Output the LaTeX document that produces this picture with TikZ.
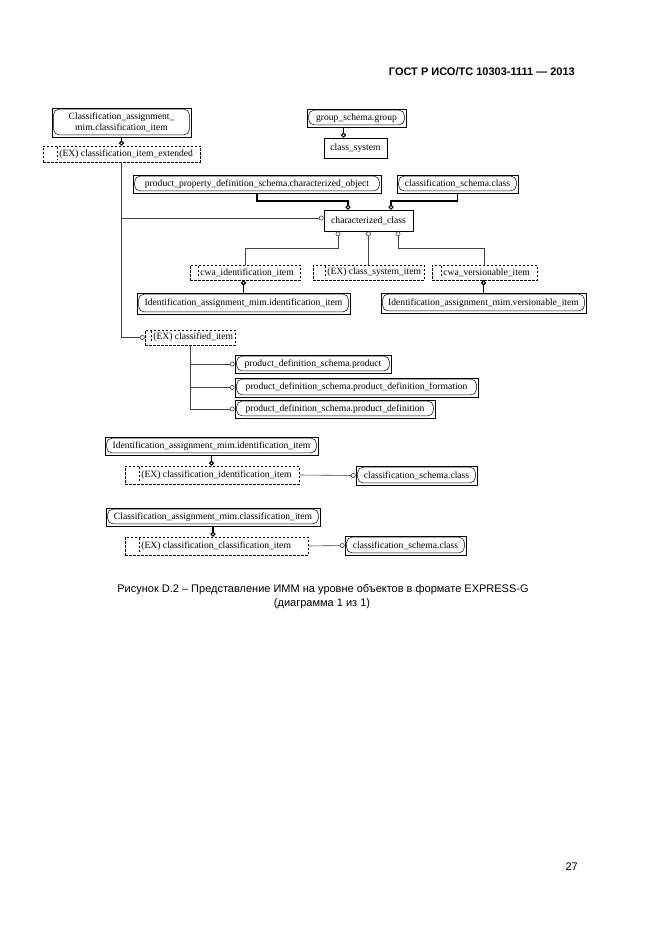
\documentclass[tikz,border=0pt]{standalone}
\usepackage{fontspec}
\setmainfont{Liberation Serif}
\newfontfamily\hdrfont{Liberation Sans}
\usetikzlibrary{arrows.meta}
\tikzset{
 ob/.style={draw, line width=0.8pt, inner sep=0pt, align=center, font=\fontsize{9.6}{10.6}\selectfont},
 db/.style={draw, dash pattern=on 2.5pt off 1.5pt, line width=0.6pt, inner sep=0pt},
 tx/.style={inner sep=0pt, font=\fontsize{9.6}{10.6}\selectfont, anchor=west},
 thk/.style={line width=1.8pt, -{Circle[open, length=5pt, width=5pt, line width=1.1pt]}},
 thn/.style={line width=0.6pt, draw=black!75, -{Circle[open, length=4.8pt, width=4.8pt, line width=0.6pt]}},
 inr/.style={line width=0.5pt, rounded corners=5.5pt},
 sanstxt/.style={inner sep=0pt, font=\hdrfont\fontsize{11}{13}\selectfont}
}
\newcommand\rbox[6]{%
 \node[ob, minimum width={(#4)-(#2)}, minimum height={(#5)-(#3)}] (#1) at ({((#2)+(#4))/2},{((#3)+(#5))/2}) {#6};
 \draw[inr] ([xshift=2pt,yshift=-1.5pt]#1.north west) rectangle ([xshift=-2pt,yshift=2.5pt]#1.south east);
}
\newcommand\pbox[6]{%
 \node[ob, minimum width={(#4)-(#2)}, minimum height={(#5)-(#3)}] (#1) at ({((#2)+(#4))/2},{((#3)+(#5))/2}) {#6};
}
\newcommand\dbox[7]{%
 \node[db, minimum width={(#4)-(#2)}, minimum height={(#5)-(#3)}] (#1) at ({((#2)+(#4))/2},{((#3)+(#5))/2}) {};
 \draw[db] ([xshift=#6pt,yshift=-1pt]#1.north west) -- ([xshift=#6pt,yshift=3pt]#1.south west);
 \node[tx] (#1-t) at ([xshift=#6pt+1.5pt]#1.west) {#7};
}
\begin{document}
\begin{tikzpicture}[x=1pt,y=-1pt]
\useasboundingbox[fill=white] (0,0) rectangle (661,936);

\node[sanstxt, font=\hdrfont\bfseries\fontsize{11}{13}\selectfont, anchor=base east] (hdr) at (575,76) {ГОСТ Р ИСО/ТС 10303-1111 — 2013};

\rbox{cam1}{52}{108}{191}{137}{Classification\_assignment\_\\mim.classification\_item}
\dbox{ex1}{43}{146}{200}{162}{15}{(EX) classification\_item\_extended}
\rbox{gsg}{307}{109}{406}{127}{group\_schema.group}
\pbox{csys}{324}{138}{387}{158}{class\_system}
\rbox{ppd}{133}{175}{381}{193}{product\_property\_definition\_schema.characterized\_object}
\rbox{csc1}{397}{175}{518}{193}{classification\_schema.class}
\pbox{cc}{324}{210}{413}{231}{characterized\_class}
\dbox{cwaid}{190}{265}{300}{280}{9}{cwa\_identification\_item}
\dbox{csi}{313}{265}{424}{280}{13}{(EX) class\_system\_item}
\dbox{cwav}{432}{265}{537}{280}{10}{cwa\_versionable\_item}
\rbox{ida1}{137}{293}{350}{314}{Identification\_assignment\_mim.identification\_item}
\rbox{idv}{381}{293}{586}{313}{Identification\_assignment\_mim.versionable\_item}
\dbox{ci}{145}{330}{235}{345}{7}{(EX) classified\_item}
\rbox{p1}{235}{355}{391}{373}{product\_definition\_schema.product}
\rbox{p2}{235}{378}{478}{397}{product\_definition\_schema.product\_definition\_formation}
\rbox{p3}{235}{400}{435}{418}{product\_definition\_schema.product\_definition}
\rbox{ida2}{105}{437}{318}{455}{Identification\_assignment\_mim.identification\_item}
\dbox{eci}{125}{466}{299}{484}{15}{(EX) classification\_identification\_item}
\rbox{csc2}{356}{466}{477}{485}{classification\_schema.class}
\rbox{cam2}{106}{508}{320}{526}{Classification\_assignment\_mim.classification\_item}
\dbox{ecc}{125}{537}{308}{555}{15}{(EX) classification\_classification\_item}
\rbox{csc3}{345}{536}{466}{555}{classification\_schema.class}

% connectors
\draw[thk] (cam1.south) -- (ex1.north);
\coordinate (g1) at ([xshift=-13pt]gsg.south);
\draw[thk] (g1) -- (g1 |- csys.north);
\draw[thn] (ex1.south) |- ([yshift=2.5pt]cc.west);
\draw[thn] (ex1.south) |- (ci.west);
\draw[thn] (ci.south) |- (p1.west);
\draw[thn] (ci.south) |- (p2.west);
\draw[thn] (ci.south) |- (p3.west);
\coordinate (j1) at (338,248);
\coordinate (j3) at (398,248);
\draw[thn] (cwaid.north) |- (j1) -- (j1 |- cc.south);
\draw[thn] (csi.north) -- (cc.south);
\draw[thn] (cwav.north) |- (j3) -- (j3 |- cc.south);
\coordinate (j4) at (348,201);
\coordinate (j5) at (391,201);
\draw[thk] (ppd.south) |- (j4) -- (j4 |- cc.north);
\draw[thk] (csc1.south) |- (j5) -- (j5 |- cc.north);
\draw[thk] (ida1.north) -- (ida1.north |- cwaid.south);
\draw[thk] (idv.north) -- (idv.north |- cwav.south);
\draw[thk] (ida2.south) -- (ida2.south |- eci.north);
\draw[thn] (eci.east) -- (csc2.west);
\draw[thk] (cam2.south) -- (cam2.south |- ecc.north);
\draw[thn] (ecc.east) -- (csc3.west);

\node[sanstxt, anchor=base] (cap1) at (323,592) {Рисунок D.2 – Представление ИММ на уровне объектов в формате EXPRESS-G};
\node[sanstxt, anchor=base] (cap2) at (322,606) {(диаграмма 1 из 1)};
\node[sanstxt, anchor=base east] (pg) at (578,870) {27};
\end{tikzpicture}
\end{document}
